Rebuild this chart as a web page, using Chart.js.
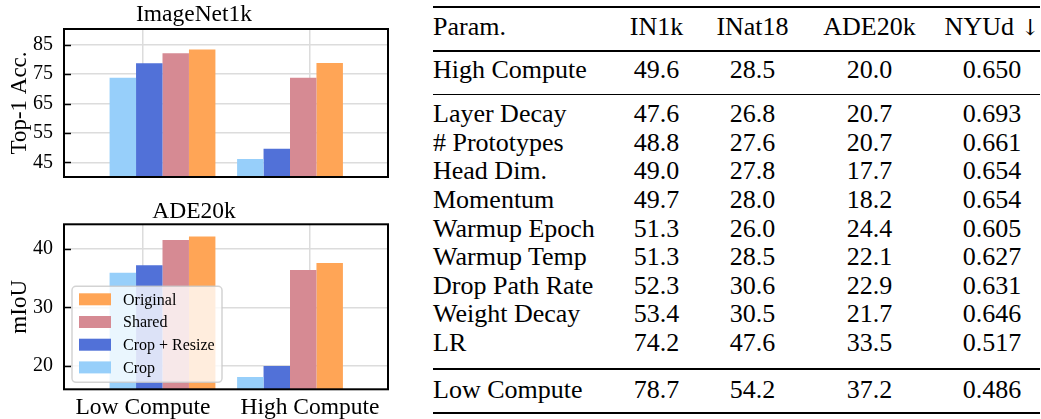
<!DOCTYPE html>
<html>
<head>
<meta charset="utf-8">
<script src="https://cdn.jsdelivr.net/npm/chart.js@4.4.1/dist/chart.umd.min.js"></script>
<style>
  html, body { margin: 0; padding: 0; background: #fff; }
  body { width: 1041px; height: 419px; position: relative; overflow: hidden;
         font-family: 'Liberation Serif', 'Times New Roman', serif; color: #000; }
  #c1 { position: absolute; left: 0; top: 0; }
  #c2 { position: absolute; left: 0; top: 200px; }
  .rule { position: absolute; left: 433px; width: 607px; background: #000; }
  .cell { position: absolute; font-family: 'Liberation Serif', 'Times New Roman', serif;
          font-size: 26px; line-height: 26px; white-space: nowrap; color: #000; }
  .num { width: 140px; margin-left: -70px; text-align: center; }
  .arrow { font-family: 'DejaVu Serif', serif; font-size: 22px; color: #000; }
</style>
</head>
<body>
<canvas id="c1" width="400" height="200"></canvas>
<canvas id="c2" width="400" height="219"></canvas>
<div id="table"></div>
<script>
// ---- bar chart data ----
const categories = ['Low Compute', 'High Compute'];
const methods = ['Crop', 'Crop + Resize', 'Shared', 'Original'];
const methodColors = ['#97CFFA', '#5171D8', '#D68A93', '#FFA556'];

const in1kCrop = [73.8, 46.1];
const in1kCropResize = [78.7, 49.6];
const in1kShared = [82.1, 73.8];
const in1kOriginal = [83.4, 78.8];

const adeCrop = [35.9, 18.1];
const adeCropResize = [37.2, 20.0];
const adeShared = [41.5, 36.4];
const adeOriginal = [42.1, 37.6];

const in1kTicks = [45, 55, 65, 75, 85];
const adeTicks = [20, 30, 40];

// ---- table data ----
const tableHeader = ['Param.', 'IN1k', 'INat18', 'ADE20k', 'NYUd'];
const params = ['High Compute', 'Layer Decay', '# Prototypes', 'Head Dim.', 'Momentum',
  'Warmup Epoch', 'Warmup Temp', 'Drop Path Rate', 'Weight Decay', 'LR', 'Low Compute'];
const colIN1k = [49.6, 47.6, 48.8, 49.0, 49.7, 51.3, 51.3, 52.3, 53.4, 74.2, 78.7];
const colINat18 = [28.5, 26.8, 27.6, 27.8, 28.0, 26.0, 28.5, 30.6, 30.5, 47.6, 54.2];
const colADE20k = [20.0, 20.7, 20.7, 17.7, 18.2, 24.4, 22.1, 22.9, 21.7, 33.5, 37.2];
const colNYUd = [0.650, 0.693, 0.661, 0.654, 0.654, 0.605, 0.627, 0.631, 0.646, 0.517, 0.486];

const SERIF = "'Liberation Serif', 'Times New Roman', serif";
Chart.defaults.font.family = SERIF;
Chart.defaults.color = '#000';

const GRID = '#dcdcdc';

// frame + inward y ticks, matplotlib style
const framePlugin = {
  id: 'frame',
  afterDraw(chart) {
    const {ctx, chartArea: a} = chart;
    const y = chart.scales.y;
    ctx.save();
    ctx.strokeStyle = '#000';
    ctx.lineWidth = 1.5;
    y.ticks.forEach((t, i) => {
      const py = Math.round(y.getPixelForTick(i)) + 0.5;
      ctx.beginPath();
      ctx.moveTo(a.left, py);
      ctx.lineTo(a.left + 7, py);
      ctx.stroke();
    });
    ctx.lineWidth = 2;
    ctx.strokeRect(a.left, a.top, a.right - a.left, a.bottom - a.top);
    ctx.restore();
  }
};

// legend box drawn inside the plot (lower left), reversed order
const boxLegend = {
  id: 'boxLegend',
  afterDatasetsDraw(chart) {
    const {ctx, chartArea: a} = chart;
    const w = 150, h = 96;
    const x = a.left + 8, y = a.bottom - 7 - h;
    ctx.save();
    ctx.beginPath();
    if (ctx.roundRect) ctx.roundRect(x, y, w, h, 4); else ctx.rect(x, y, w, h);
    ctx.fillStyle = 'rgba(255,255,255,0.8)';
    ctx.fill();
    ctx.strokeStyle = 'rgba(200,200,200,0.8)';
    ctx.lineWidth = 1.5;
    ctx.stroke();
    ctx.font = '16px ' + SERIF;
    ctx.textBaseline = 'middle';
    chart.data.datasets.slice().reverse().forEach((ds, i) => {
      const cy = y + 13 + i * 22.7;
      ctx.fillStyle = ds.backgroundColor;
      ctx.fillRect(x + 7, cy - 6, 32, 12);
      ctx.fillStyle = '#000';
      ctx.fillText(ds.label, x + 51, cy + 1);
    });
    ctx.restore();
  }
};

function catTicks(s) { s.ticks = categories.map((c, i) => ({value: i})); }

function makeChart(id, title, yLabel, series, yMin, yMax, yTicks, opts) {
  return new Chart(document.getElementById(id), {
    type: 'bar',
    data: {
      datasets: series.map((vals, k) => ({
        label: methods[k],
        data: vals.map((v, i) => ({x: i, y: v})),
        backgroundColor: methodColors[k],
        borderWidth: 0,
        xAxisID: 'x',
        yAxisID: 'y',
        categoryPercentage: 0.83,
        barPercentage: 1.0
      }))
    },
    options: {
      responsive: false,
      animation: false,
      layout: {padding: {left: 0, right: 12, top: 0, bottom: opts.padBottom}},
      plugins: {
        legend: {display: false},
        tooltip: {enabled: false},
        title: {display: true, text: title, color: '#000',
                font: {family: SERIF, size: 23.5, weight: 'normal', lineHeight: 1},
                padding: opts.titlePad}
      },
      scales: {
        x: {
          type: 'linear', display: false, offset: false, grid: {offset: false},
          min: -0.7725, max: 1.7686,
          afterBuildTicks: catTicks
        },
        x2: {
          type: 'linear', position: 'bottom', offset: false, min: -0.473, max: 1.467,
          afterBuildTicks: catTicks,
          afterFit: s => { s.height = opts.xHeight; },
          grid: {color: GRID, lineWidth: 1.5, drawTicks: false, offset: false},
          border: {display: false},
          ticks: {display: opts.showX, padding: 4, autoSkip: false, maxRotation: 0,
                  color: '#000', font: {family: SERIF, size: 23.5},
                  callback: v => categories[v]}
        },
        y: {
          min: yMin, max: yMax,
          afterBuildTicks: s => { s.ticks = yTicks.map(v => ({value: v})); },
          afterFit: s => { s.width = 64; },
          grid: {color: GRID, lineWidth: 1.5, drawTicks: false},
          border: {display: false},
          ticks: {padding: 11, color: '#000', font: {family: SERIF, size: 20}},
          title: {display: true, text: yLabel, color: '#000',
                  font: {family: SERIF, size: 23}, padding: {top: 6, bottom: 0}}
        }
      }
    },
    plugins: opts.legend ? [boxLegend, framePlugin] : [framePlugin]
  });
}

makeChart('c1', 'ImageNet1k', 'Top-1 Acc.',
  [in1kCrop, in1kCropResize, in1kShared, in1kOriginal], 40, 90.4, in1kTicks,
  {padBottom: 7, xHeight: 0, showX: false, legend: false, titlePad: {top: 3.5, bottom: 2}});

makeChart('c2', 'ADE20k', 'mIoU',
  [adeCrop, adeCropResize, adeShared, adeOriginal], 16, 44.2, adeTicks,
  {padBottom: 0, xHeight: 29.7, showX: true, legend: true, titlePad: {top: 0.5, bottom: 0.3}});

// ---- table ----
const table = document.getElementById('table');
function rule(top, h) {
  const d = document.createElement('div');
  d.className = 'rule';
  d.style.top = top + 'px';
  d.style.height = h + 'px';
  table.appendChild(d);
}
const colCenters = [656.5, 752.5, 869.5, 992];
function row(baseline, cells) {
  const top = baseline - 21.8;
  const divs = cells.map((txt, j) => {
    const d = document.createElement('div');
    d.className = j === 0 ? 'cell' : 'cell num';
    d.style.top = top + 'px';
    d.style.left = (j === 0 ? 433 : colCenters[j - 1]) + 'px';
    d.textContent = txt;
    table.appendChild(d);
    return d;
  });
  return divs;
}
rule(6, 2);
const head = row(36, tableHeader);
const arrow = document.createElement('span');
arrow.className = 'arrow';
arrow.textContent = ' \u2193\uFE0E';
head[4].appendChild(arrow);
rule(50.3, 1.3);
const baselines = [78.3];
for (let i = 1; i < params.length - 1; i++) baselines.push(123 + (i - 1) * 28.6);
baselines.push(398.3);
rule(93.7, 1.3);
rule(368.3, 1.3);
rule(411.8, 2.2);
params.forEach((p, i) => {
  row(baselines[i], [p, colIN1k[i].toFixed(1), colINat18[i].toFixed(1),
    colADE20k[i].toFixed(1), colNYUd[i].toFixed(3)]);
});
</script>
</body>
</html>
